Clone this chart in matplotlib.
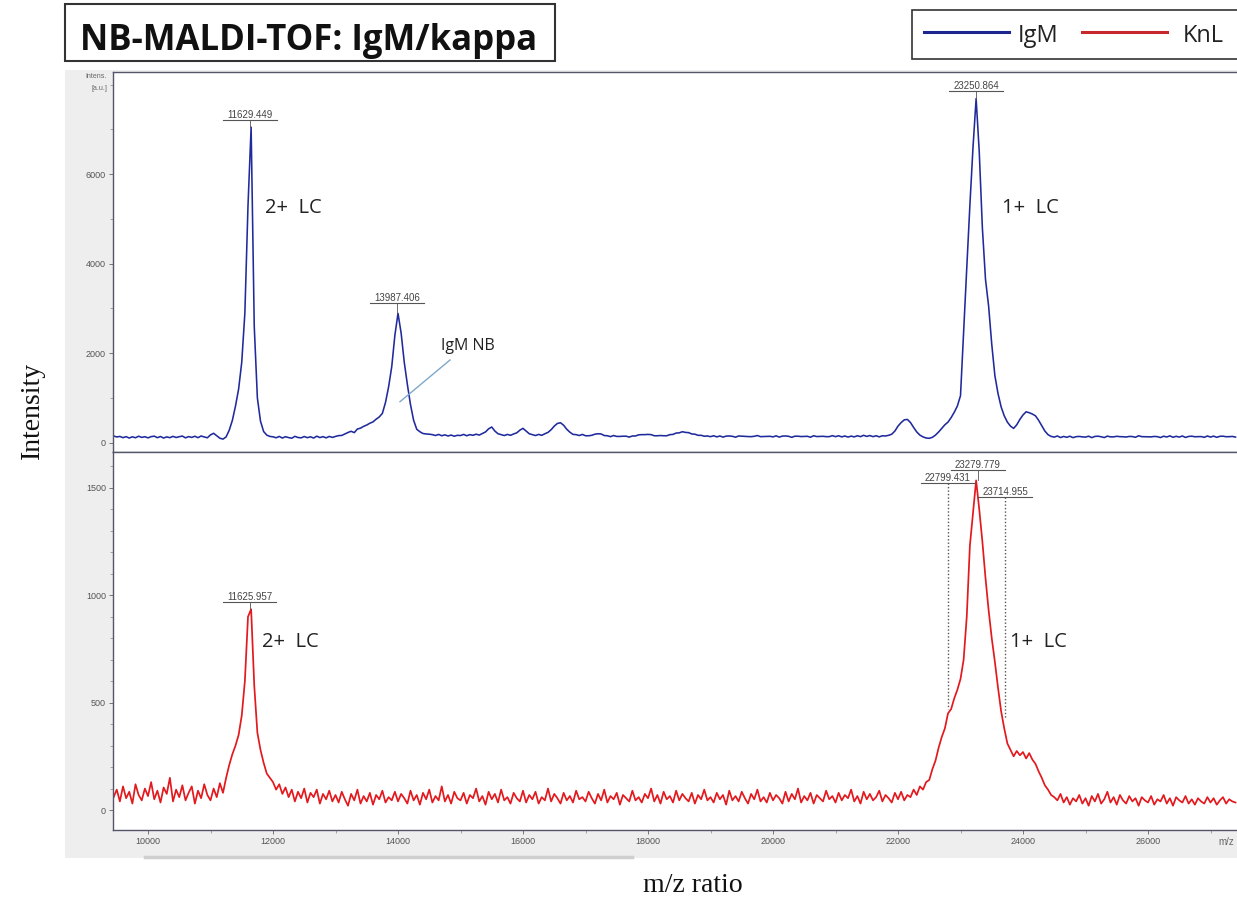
import numpy as np
import matplotlib
matplotlib.use("Agg")
import matplotlib.pyplot as plt
from matplotlib.lines import Line2D
from matplotlib.patches import Rectangle
from matplotlib.ticker import MultipleLocator, FixedLocator

# m/z sampling grid of both traces (step 50)
mz = np.arange(9450, 27401, 50)

# IgM trace (top panel), intensity in a.u., one row per 1000 m/z
igm_intensity = [
    150, 128, 140, 112, 135, 104, 132, 110, 145, 118, 134,                                       # 9450-9950
    108, 135, 146, 112, 138, 104, 130, 112, 142, 116, 134, 148, 108, 136, 118, 144, 112, 150, 128, 110,  # 10000
    175, 210, 155, 100, 80, 130, 280, 500, 820, 1200, 1800, 2900, 5300, 7050, 2600, 1000, 480, 250, 170, 140,  # 11000
    132, 110, 140, 104, 134, 114, 100, 142, 116, 108, 138, 112, 132, 104, 146, 114, 135, 108, 140, 118,  # 12000
    140, 158, 162, 195, 228, 255, 225, 305, 325, 365, 395, 435, 465, 525, 575, 655, 900, 1250, 1700, 2400,  # 13000
    2890, 2450, 1800, 1300, 850, 500, 300, 245, 205, 195, 190, 180, 160, 185, 155, 175, 150, 170, 145, 165,  # 14000
    160, 185, 155, 180, 165, 190, 170, 205, 240, 310, 350, 260, 200, 180, 160, 185, 165, 195, 220, 280,  # 15000
    320, 260, 200, 180, 160, 185, 165, 200, 230, 290, 370, 430, 445, 390, 300, 235, 185, 180, 160, 185,  # 16000
    155, 155, 165, 190, 200, 195, 160, 155, 135, 160, 140, 140, 145, 145, 125, 150, 150, 175, 180, 180,  # 17000
    185, 180, 155, 155, 160, 155, 155, 180, 185, 215, 220, 245, 230, 225, 195, 190, 165, 165, 145, 150,  # 18000
    135, 155, 130, 150, 125, 147, 150, 143, 123, 150, 145, 141, 137, 135, 143, 160, 135, 137, 141, 143,  # 19000
    130, 153, 125, 147, 150, 143, 120, 145, 145, 137, 140, 143, 123, 155, 137, 140, 143, 135, 135, 157,  # 20000
    135, 155, 130, 150, 125, 147, 130, 155, 135, 165, 140, 160, 135, 155, 130, 155, 150, 165, 190, 260,  # 21000
    370, 450, 510, 520, 450, 340, 240, 170, 130, 105, 98, 120, 170, 240, 320, 400, 460, 560, 680, 820,  # 22000
    1050, 2500, 3900, 5300, 6600, 7690, 6500, 4800, 3650, 3050, 2200, 1500, 1100, 800, 600, 460, 370, 320, 400, 520,  # 23000
    620, 690, 670, 640, 600, 500, 380, 260, 180, 140, 125, 150, 115, 140, 120, 145, 113, 135, 140, 130,  # 24000
    125, 145, 113, 140, 145, 133, 115, 147, 130, 130, 143, 135, 133, 127, 140, 137, 121, 155, 135, 133,  # 25000
    130, 130, 140, 135, 115, 145, 127, 153, 121, 143, 125, 150, 117, 140, 145, 133, 135, 137, 120, 150,  # 26000
    125, 147, 120, 143, 145, 133, 135, 140, 125,                                                 # 27000-27400
]

# KnL trace (bottom panel)
knl_intensity = [
    60, 95, 40, 110, 55, 85, 30, 120, 70, 45, 100,                                               # 9450-9950
    65, 130, 50, 90, 35, 105, 75, 150, 40, 95, 60, 115, 45, 80, 110, 30, 90, 55, 120, 70,         # 10000
    45, 100, 60, 125, 80, 150, 210, 260, 300, 350, 440, 600, 900, 935, 580, 360, 280, 220, 170, 150,  # 11000
    130, 95, 120, 75, 105, 60, 95, 40, 85, 55, 100, 35, 80, 60, 95, 30, 75, 50, 90, 40,          # 12000
    70, 35, 85, 50, 20, 75, 45, 95, 30, 65, 40, 80, 25, 70, 50, 90, 35, 60, 45, 85,              # 13000
    40, 75, 55, 30, 90, 45, 70, 25, 80, 50, 95, 35, 65, 45, 110, 40, 70, 30, 85, 55,             # 14000
    45, 80, 30, 70, 55, 100, 40, 65, 25, 85, 50, 75, 35, 95, 45, 60, 30, 80, 55, 40,             # 15000
    90, 35, 70, 50, 85, 30, 60, 45, 100, 40, 75, 55, 30, 80, 45, 65, 35, 90, 50, 60,             # 16000
    40, 85, 55, 30, 75, 45, 95, 35, 65, 50, 80, 25, 70, 55, 40, 90, 45, 60, 35, 75,              # 17000
    55, 100, 40, 70, 30, 85, 50, 65, 35, 90, 45, 75, 55, 40, 80, 30, 70, 50, 95, 45,             # 18000
    60, 35, 80, 50, 70, 25, 90, 45, 65, 40, 85, 55, 30, 75, 50, 95, 40, 60, 35, 80,              # 19000
    45, 70, 55, 30, 85, 40, 75, 50, 100, 35, 65, 45, 80, 30, 70, 55, 40, 90, 50, 65,             # 20000
    35, 80, 45, 70, 55, 95, 40, 65, 30, 85, 50, 75, 45, 60, 90, 40, 70, 55, 35, 80,              # 21000
    50, 85, 45, 70, 60, 95, 70, 110, 95, 130, 140, 190, 230, 290, 340, 380, 450, 470, 520, 560,  # 22000
    610, 700, 900, 1230, 1380, 1535, 1400, 1250, 1080, 930, 800, 690, 570, 460, 380, 310, 280, 250, 275, 255,  # 23000
    270, 240, 265, 235, 215, 180, 150, 115, 95, 70, 60, 45, 75, 35, 60, 25, 55, 40, 70, 30,      # 24000
    55, 20, 65, 40, 75, 30, 50, 85, 35, 60, 25, 70, 45, 30, 65, 40, 55, 20, 60, 45,              # 25000
    35, 65, 25, 50, 40, 70, 30, 55, 20, 60, 45, 35, 65, 30, 50, 25, 55, 40, 30, 60,              # 26000
    35, 55, 25, 45, 60, 30, 50, 40, 35,                                                          # 27000-27400
]

# labelled peaks: (m/z, intensity at the peak)
igm_peaks = [(11629.449, 7050), (13987.406, 2890), (23250.864, 7690)]
knl_peaks = [(11625.957, 935), (22799.431, 470), (23279.779, 1535), (23714.955, 430)]

W, H = 1237, 902
BLUE = '#1f2a9c'
RED = '#e3191e'


def fx(px):
    return px / W


def fy(py):
    return 1 - py / H


def peak_label(ax, mz_val, tip, y_line, dotted=False):
    """Underlined m/z label with a stub (or dotted line) down to the peak."""
    ax.text(mz_val, y_line, f'{mz_val:.3f}', ha='center', va='bottom',
            fontsize=7, color='#444444')
    ax.plot([mz_val - 430, mz_val + 430], [y_line, y_line], color='#555555', lw=0.8)
    if dotted:
        ax.plot([mz_val, mz_val], [y_line, tip], color='#555555', lw=1.0, ls=(0, (1, 1.5)))
    else:
        ax.plot([mz_val, mz_val], [y_line, tip], color='#555555', lw=0.6)


def style_axes(ax):
    for side in ['left', 'top', 'bottom']:
        ax.spines[side].set_color('#55556a')
        ax.spines[side].set_linewidth(1.0)
    ax.spines['right'].set_visible(False)
    ax.tick_params(which='major', direction='out', length=3, width=0.7, pad=2,
                   labelsize=6.5, labelcolor='#555555', color='#777777')
    ax.tick_params(which='minor', direction='out', length=2, width=0.6, color='#999999')


plt.rcParams['font.family'] = ['Liberation Sans', 'DejaVu Sans']

fig = plt.figure(figsize=(W / 100, H / 100), dpi=100)

# grey frame of the acquisition software window (behind the axes)
fig.patches.append(Rectangle((fx(65), fy(858)), fx(1237) - fx(65), (858 - 70) / H,
                             transform=fig.transFigure, facecolor='#eeeeee',
                             edgecolor='none', zorder=-2))
fig.lines.append(Line2D([fx(145), fx(632)], [fy(856.5), fy(856.5)], transform=fig.transFigure,
                        color='#cfcfcf', lw=2.5, zorder=-1))

ax1 = fig.add_axes([fx(113), fy(452), 1 - fx(113), 380 / H])
ax2 = fig.add_axes([fx(113), fy(830), 1 - fx(113), 378 / H], sharex=ax1)

ax1.plot(mz, igm_intensity, color=BLUE, lw=1.15)
ax2.plot(mz, knl_intensity, color=RED, lw=1.25)

ax1.set_xlim(9440, 27424)
ax1.set_ylim(-208, 8284)
ax2.set_ylim(-93, 1667)

for ax in (ax1, ax2):
    style_axes(ax)
    ax.xaxis.set_major_locator(MultipleLocator(2000))
    ax.xaxis.set_minor_locator(MultipleLocator(1000))
ax1.yaxis.set_major_locator(FixedLocator([0, 2000, 4000, 6000]))
ax1.yaxis.set_minor_locator(FixedLocator([1000, 3000, 5000, 7000, 8000]))
ax2.yaxis.set_major_locator(MultipleLocator(500))
ax2.yaxis.set_minor_locator(MultipleLocator(100))
ax1.tick_params(axis='x', which='both', bottom=False, labelbottom=False)

# peak labels
for (m, tip), y_line in zip(igm_peaks, [7211, 3122, 7859]):
    peak_label(ax1, m, tip, y_line)
for (m, tip), y_line, dotted in zip(knl_peaks, [967, 1521, 1581, 1457],
                                    [False, True, False, True]):
    peak_label(ax2, m, tip, y_line, dotted)

# hand annotations
note = dict(family=['Open Sans', 'DejaVu Sans'], color='#222222', va='baseline')
ax1.text(11872, 5126, '2+  LC', fontsize=14.5, **note)
ax1.text(23659, 5126, '1+  LC', fontsize=14.5, **note)
ax2.text(11824, 760, '2+  LC', fontsize=14.5, **note)
ax2.text(23792, 760, '1+  LC', fontsize=14.5, **note)
ax1.text(14683, 2072, 'IgM NB', fontsize=11.5, **note)
ax1.plot([14832, 14032], [1848, 916], color='#7fa7c9', lw=1.0)

# software axis captions
fig.text(fx(107), fy(76), 'Intens.', ha='right', va='center', fontsize=5, color='#666666')
fig.text(fx(107), fy(88), '[a.u.]', ha='right', va='center', fontsize=5, color='#666666')
fig.text(fx(1218), fy(842), 'm/z', ha='left', va='center', fontsize=7, color='#666666')

# title box
fig.patches.append(Rectangle((fx(65), fy(61)), fx(555) - fx(65), (61 - 4) / H,
                             transform=fig.transFigure, facecolor='white',
                             edgecolor='#333333', lw=1.5))
fig.text(fx(80), fy(50), 'NB-MALDI-TOF: IgM/kappa', ha='left', va='baseline',
         fontsize=25, fontweight='bold', family=['Open Sans', 'DejaVu Sans'], color='#111111')

# legend box (runs off the right edge)
fig.patches.append(Rectangle((fx(912), fy(59)), fx(1245) - fx(912), (59 - 10) / H,
                             transform=fig.transFigure, facecolor='white',
                             edgecolor='#333333', lw=1.2))
fig.lines.append(Line2D([fx(924), fx(1009)], [fy(32), fy(32)], transform=fig.transFigure,
                        color='#1c2590', lw=2.2))
fig.lines.append(Line2D([fx(1082), fx(1167)], [fy(32), fy(32)], transform=fig.transFigure,
                        color='#c8282d', lw=2.2))
leg = dict(family=['Open Sans', 'DejaVu Sans'], fontsize=17, color='#222222', va='baseline')
fig.text(fx(1018), fy(42), 'IgM', **leg)
fig.text(fx(1183), fy(42), 'KnL', **leg)

# outer axis titles
serif = ['Liberation Serif', 'DejaVu Serif']
fig.text(fx(32), fy(410), 'Intensity', rotation=90, ha='center', va='center',
         fontsize=20, family=serif, color='#111111')
fig.text(fx(693), fy(886), 'm/z ratio', ha='center', va='center',
         fontsize=20, family=serif, color='#111111')

fig.savefig('out.png', dpi=100, facecolor='white')
